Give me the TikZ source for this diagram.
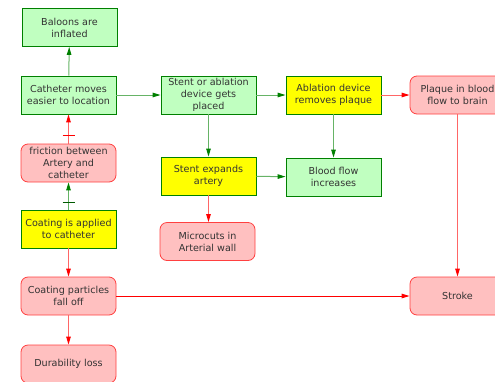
\documentclass[tikz,border=0pt]{standalone}
\usepackage{fontspec}
\setmainfont{DejaVu Sans}
\usetikzlibrary{arrows.meta}
\definecolor{goodfill}{HTML}{C0FFC0}
\definecolor{goodline}{HTML}{008000}
\definecolor{badfill}{HTML}{FFC0C0}
\definecolor{badline}{HTML}{FF0000}
\definecolor{keyfill}{HTML}{FFFF00}
\tikzset{
  box/.style={minimum width=95pt, minimum height=38pt,
    align=center, inner sep=1pt, line width=0.8pt,
    font=\fontsize{9.6}{12}\selectfont, text=black!80},
  goodbox/.style={box, draw=goodline, fill=goodfill},
  keybox/.style={box, draw=goodline, fill=keyfill},
  badbox/.style={box, draw=badline!75, fill=badfill, rounded corners=7pt},
  posarrow/.style={draw=goodline!60, line width=1pt,
    -{Triangle[length=8pt, width=4.5pt, fill=goodline, color=goodline]}},
  negarrow/.style={draw=badline!60, line width=1pt,
    -{Triangle[length=8pt, width=4.5pt, fill=badline, color=badline]}},
  negsolid/.style={negarrow, draw=badline},
}
\begin{document}
\begin{tikzpicture}[x=1pt, y=-1pt]
  \useasboundingbox (0,0) rectangle (495,381);

  % left column
  \node[goodbox] (bal)  at (69.5, 27.5) {Baloons are\\inflated};
  \node[goodbox] (cat)  at (68.5, 95)   {Catheter moves\\easier to location};
  \node[badbox]  (fric) at (68.5, 163)  {friction between\\Artery and\\catheter};
  \node[keybox]  (coat) at (68.5, 229)  {Coating is applied\\to catheter};
  \node[badbox]  (part) at (68.5, 296)  {Coating particles\\fall off};
  \node[badbox]  (dur)  at (68.5, 364)  {Durability loss};

  % middle columns
  \node[goodbox] (sten) at (208.5, 95)  {Stent or ablation\\device gets\\placed};
  \node[keybox]  (expd) at (208.5, 176) {Stent expands\\artery};
  \node[badbox]  (micr) at (207.5, 241.5) {Microcuts in\\Arterial wall};
  \node[keybox]  (abl)  at (333.5, 95)  {Ablation device\\removes plaque};
  \node[goodbox] (flow) at (333.5, 177) {Blood flow\\increases};

  % right column
  \node[badbox]  (plaq) at (457.5, 95)  {Plaque in blood\\flow to brain};
  \node[badbox]  (strk) at (457.5, 296) {Stroke};

  % connectors
  \draw[posarrow] (cat) -- (bal);
  \draw[posarrow] (cat) -- (sten);
  \draw[negarrow] (fric) -- (cat);
  \draw[badline] ([xshift=-6pt, yshift=8pt]fric.north) -- ([xshift=6pt, yshift=8pt]fric.north);
  \draw[posarrow] (coat) -- (fric);
  \draw[goodline!70!black] ([xshift=-6pt, yshift=7pt]coat.north) -- ([xshift=6pt, yshift=7pt]coat.north);
  \draw[negarrow] (coat) -- (part);
  \draw[negarrow] (part) -- (dur);
  \draw[negsolid] (part) -- (strk);
  \draw[posarrow] (sten) -- (expd);
  \draw[posarrow] (sten) -- (abl);
  \draw[negarrow] (expd.south) -- (expd.south |- micr.north);
  \draw[posarrow] (expd) -- (flow);
  \draw[posarrow] (abl) -- (flow);
  \draw[negarrow] (abl) -- (plaq);
  \draw[negarrow] (plaq) -- (strk);
\end{tikzpicture}
\end{document}
